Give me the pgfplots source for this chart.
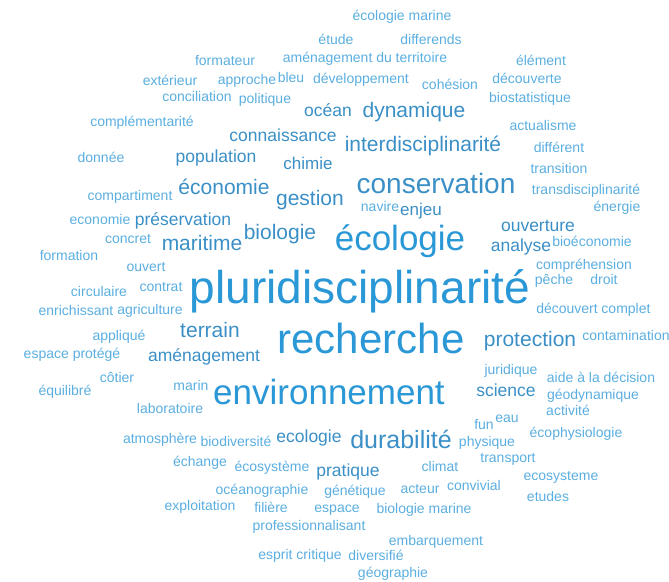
\documentclass[border=0pt]{standalone}
\usepackage{fontspec}
\setmainfont{Liberation Sans}
\usepackage{pgfplots}
\pgfplotsset{compat=1.18}
\definecolor{cbig}{HTML}{2A98D6}
\definecolor{cmid}{HTML}{3A8FC6}
\definecolor{csmall}{HTML}{5AAEE0}
\begin{document}
\begin{tikzpicture}
\begin{axis}[width=669pt, height=581pt, scale only axis,
  xmin=0, xmax=669, ymin=0, ymax=581, y dir=reverse,
  hide axis, clip=false,
  point meta=explicit symbolic,
  nodes near coords,
  nodes near coords align=center,
  visualization depends on={value \thisrow{s}\as\fs},
  visualization depends on={value \thisrow{c}\as\wc},
  nodes near coords style={anchor=base, inner sep=0pt, text=\wc,
    font=\fontsize{\fs}{\fs}\selectfont},
]
% x = word centre, y = baseline (pixels from the top), s = font size
\addplot[draw=none, mark=none] table[x=x, y=y, meta=w] {
x y s c w
360 303 46 cbig pluridisciplinarité
371 353 42 cbig recherche
400 250 35 cbig écologie
329 404 35 cbig environnement
436 193 28 cmid conservation
401 448 25 cmid durabilité
414 117.5 21 cmid dynamique
423 151.5 21 cmid interdisciplinarité
224 194.5 21 cmid économie
202 250.5 21 cmid maritime
310 205.5 21 cmid gestion
280 239.5 21 cmid biologie
210 337.5 21 cmid terrain
530 346.5 21 cmid protection
283 141.5 17.5 cmid connaissance
328 116.5 17.5 cmid océan
216 162.5 17.5 cmid population
183 225.5 17.5 cmid préservation
308 169.5 17 cmid chimie
421 215.5 17 cmid enjeu
538 231.5 17.5 cmid ouverture
521 251.5 17.5 cmid analyse
204 361.5 17.5 cmid aménagement
506 396.5 17.5 cmid science
309 442.5 17.5 cmid ecologie
348 476.5 17.5 cmid pratique
402 20.5 14 csmall {écologie marine}
336 44.5 14 csmall étude
431 44.5 14 csmall differends
225 65.5 14 csmall formateur
365 62.5 14 csmall {aménagement du territoire}
541 65.5 14 csmall élément
170 85.5 14 csmall extérieur
247 84.5 14 csmall approche
291 82.5 14 csmall bleu
361 83.5 14 csmall développement
450 89.5 14 csmall cohésion
527 83.5 14 csmall découverte
197 101.5 14 csmall conciliation
265 103.5 14 csmall politique
530 102.5 14 csmall biostatistique
142 126.5 14 csmall complémentarité
543 130.5 14 csmall actualisme
559 152.5 14 csmall différent
101 162.5 14 csmall donnée
559 173.5 14 csmall transition
130 200.5 14 csmall compartiment
586 194.5 14 csmall transdisciplinarité
380 211.5 14 csmall navire
617 211.5 14 csmall énergie
100 224.5 14 csmall economie
128 243.5 14 csmall concret
592 246.5 14 csmall bioéconomie
69 260.5 14 csmall formation
584 269.5 14 csmall compréhension
146 271.5 14 csmall ouvert
554 284.5 14 csmall pêche
604 284.5 14 csmall droit
161 291.5 14 csmall contrat
99 296.5 14 csmall circulaire
76 315.5 14 csmall enrichissant
150 314.5 14 csmall agriculture
567 313.5 14 csmall découvert
626 313.5 14 csmall complet
119 340.5 14 csmall appliqué
626 340.5 14 csmall contamination
72 358.5 14 csmall {espace protégé}
511 374.5 14 csmall juridique
117 382.5 14 csmall côtier
601 382.5 14 csmall {aide à la décision}
191 390.5 14 csmall marin
65 395.5 14 csmall équilibré
593 399.5 14 csmall géodynamique
170 413.5 14 csmall laboratoire
568 415.5 14 csmall activité
507 422.5 14 csmall eau
484 429.5 14 csmall fun
576 437.5 14 csmall écophysiologie
160 443.5 14 csmall atmosphère
236 446.5 14 csmall biodiversité
487 446.5 14 csmall physique
508 462.5 14 csmall transport
200 466.5 14 csmall échange
272 471.5 14 csmall écosystème
440 471.5 14 csmall climat
561 480.5 14 csmall ecosysteme
474 490.5 14 csmall convivial
420 493.5 14 csmall acteur
262 494.5 14 csmall océanographie
355 495.5 14 csmall génétique
548 501.5 14 csmall etudes
200 510.5 14 csmall exploitation
271 512.5 14 csmall filière
337 512.5 14 csmall espace
424 513.5 14 csmall {biologie marine}
309 530.5 14 csmall professionnalisant
436 545.5 14 csmall embarquement
300 559.5 14 csmall {esprit critique}
376 560.5 14 csmall diversifié
393 577.5 14 csmall géographie
};
\end{axis}
\pgfresetboundingbox
\path[use as bounding box] (current axis.south west) rectangle (current axis.north east);
\end{tikzpicture}
\end{document}
